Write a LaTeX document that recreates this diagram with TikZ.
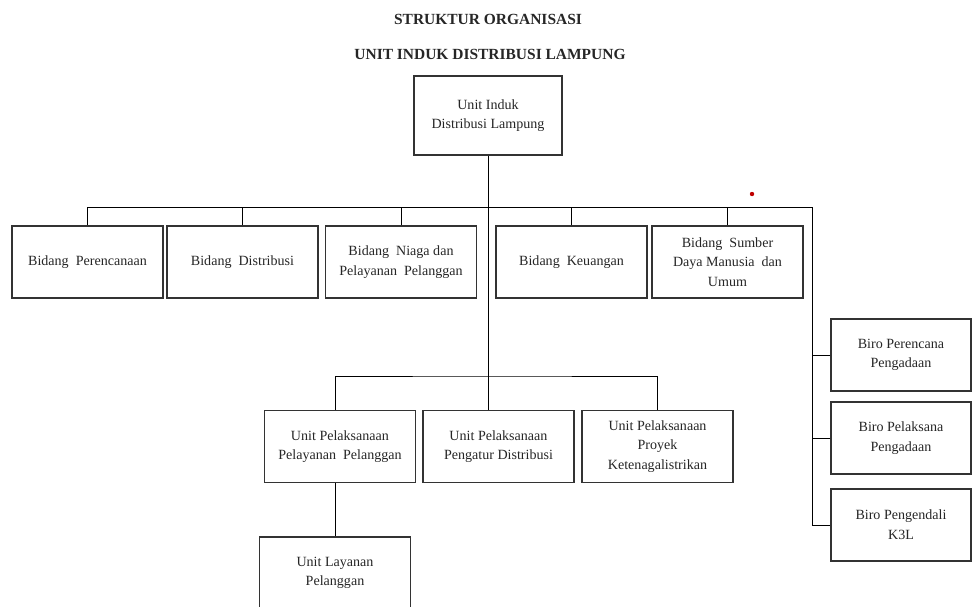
\documentclass[tikz,border=0pt]{standalone}
\usepackage{fontspec}
\setmainfont{Liberation Serif}
\begin{document}
\begin{tikzpicture}[
    x=0.025cm, y=-0.025cm,
    unit/.style={draw=black!80, line width=0.9pt, minimum width=#1, minimum height=1.8cm, align=center, inner sep=2pt, text=black!85, font=\fontsize{10}{14}\selectfont},
    unit/.default=3.775cm,
    title/.style={font=\bfseries\fontsize{11}{13}\selectfont, text=black!85},
    link/.style={draw=black, line width=0.7pt}
]
    \useasboundingbox (0,0) rectangle (972,606);

    % Titles
    \node[title] (judul) at (488,19) {STRUKTUR ORGANISASI};
    \node[title] (subjudul) at (490,54) {UNIT INDUK DISTRIBUSI LAMPUNG};

    % Unit induk
    \node[unit=3.7cm, minimum height=1.975cm] (induk) at (488,115.5) {Unit Induk\\Distribusi Lampung};

    % Bidang
    \node[unit] (perencanaan) at (87.5,262) {Bidang\ \ Perencanaan};
    \node[unit] (distribusi) at (242.5,262) {Bidang\ \ Distribusi};
    \node[unit] (niaga) at (401,262) {Bidang\ \ Niaga dan\\Pelayanan\ \ Pelanggan};
    \node[unit] (keuangan) at (571.5,262) {Bidang\ \ Keuangan};
    \node[unit] (sdm) at (727.5,262) {Bidang\ \ Sumber\\Daya Manusia\ \ dan\\Umum};

    % Biro
    \node[unit=3.5cm] (biroRencana) at (901,355) {Biro Perencana\\Pengadaan};
    \node[unit=3.5cm] (biroLaksana) at (901,438) {Biro Pelaksana\\Pengadaan};
    \node[unit=3.5cm] (biroK3L) at (901,525) {Biro Pengendali\\K3L};

    % Unit pelaksanaan
    \node[unit] (uppp) at (340,446.5) {Unit Pelaksanaan\\Pelayanan\ \ Pelanggan};
    \node[unit] (uppd) at (498.5,446.5) {Unit Pelaksanaan\\Pengatur Distribusi};
    \node[unit] (uppk) at (657.5,446.5) {Unit Pelaksanaan\\Proyek\\Ketenagalistrikan};
    \node[unit] (ulp) at (335,573) {Unit Layanan\\Pelanggan};

    % Bus points
    \coordinate (busBidang) at (812,207);
    \coordinate (busUnit) at (488,376);

    % Lines
    \draw[link] (induk.south) -- (induk.south |- uppd.north);
    \draw[link] (perencanaan.north) |- (busBidang) |- (biroK3L.west);
    \foreach \n in {distribusi, niaga, keuangan, sdm}
        \draw[link] (\n.north) -- (\n.north |- busBidang);
    \draw[link] (biroRencana.west) -- (biroRencana.west -| busBidang);
    \draw[link] (biroLaksana.west) -- (biroLaksana.west -| busBidang);
    \draw[link] (ulp.north |- uppp.north) |- (busUnit) -| (uppk.north);
    \draw[link] (ulp.north) -- (ulp.north |- uppp.south);

    % Red dot
    \fill[red!75!black] (752,194) circle (2.2);
\end{tikzpicture}
\end{document}
